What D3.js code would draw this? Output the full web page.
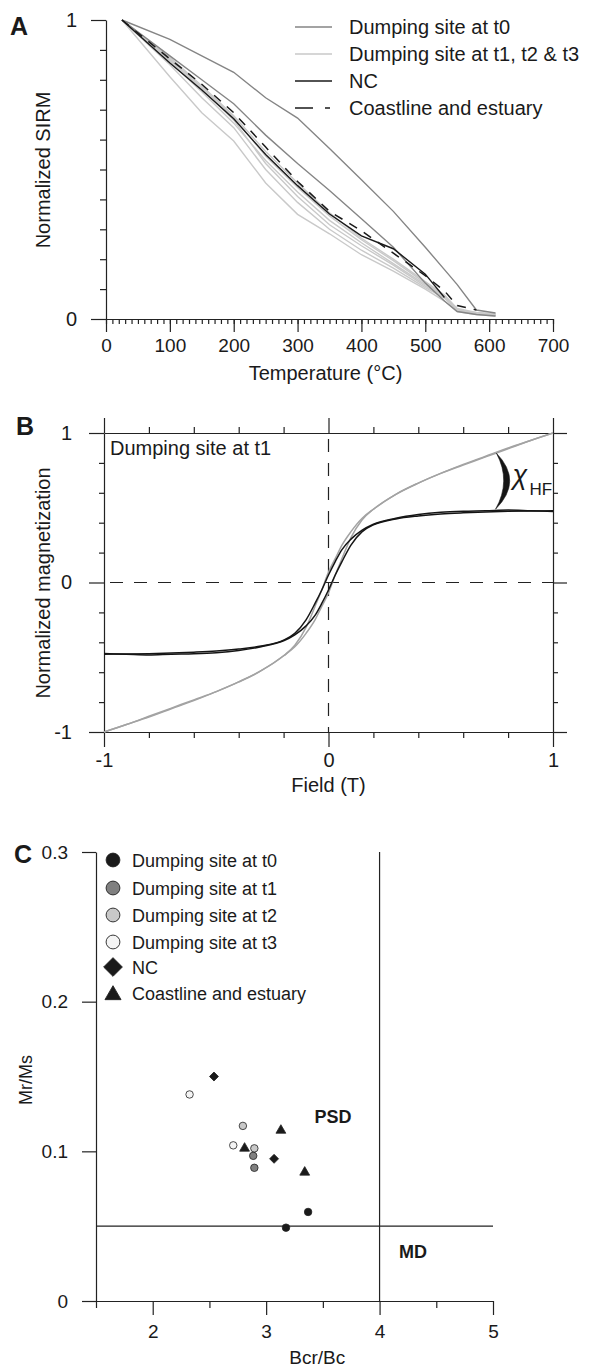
<!DOCTYPE html>
<html><head><meta charset="utf-8">
<script src="https://cdn.jsdelivr.net/npm/d3@7"></script>
<style>
body{margin:0;background:#fff}
svg{display:block}
text{font-family:"Liberation Sans",Arial,Helvetica,sans-serif;fill:#1a1a1a}
</style>
</head><body>
<svg id="chart" width="589" height="1369"></svg>
<script>
// ---------- Panel A data (thermal demagnetization of SIRM) ----------
const tempA = [25,100,150,200,250,300,350,400,450,500,530,550,580,610];
const t0LineA = [1,0.935,0.88,0.825,0.74,0.672,0.57,0.466,0.36,0.24,0.165,0.115,0.03,0.02];
const t0LineB = [1,0.88,0.80,0.72,0.615,0.52,0.43,0.335,0.24,0.12,0.06,0.025,0.015,0.01];
const lightL1 = [1,0.81,0.69,0.595,0.455,0.35,0.285,0.215,0.16,0.10,0.06,0.025,0.015,0.01];
const lightL2 = [1,0.85,0.74,0.64,0.50,0.39,0.30,0.23,0.17,0.105,0.07,0.03,0.018,0.012];
const lightL3 = [1,0.86,0.76,0.655,0.53,0.425,0.33,0.255,0.185,0.115,0.075,0.03,0.02,0.015];
const lightL4 = [1,0.865,0.77,0.665,0.52,0.41,0.315,0.245,0.18,0.11,0.072,0.028,0.018,0.012];
const lightL5 = [1,0.87,0.775,0.675,0.545,0.44,0.345,0.265,0.195,0.12,0.078,0.032,0.02,0.015];
const lightL6 = [1,0.875,0.78,0.68,0.56,0.455,0.355,0.27,0.20,0.125,0.08,0.035,0.022,0.018];
const ncA = [1,0.856,0.766,0.67,0.55,0.446,0.351,0.278,0.235,0.15,0.072,null,null,null];
const coastA = [1,0.87,0.785,0.69,0.575,0.46,0.36,0.295,0.22,0.145,0.094,0.045,0.03,null];
const tempTicks = [0,100,200,300,400,500,600,700];
const legendA = ["Dumping site at t0","Dumping site at t1, t2 & t3","NC","Coastline and estuary"];

// ---------- Panel B data (hysteresis loop, dumping site at t1) ----------
const fieldB = [-1,-0.9,-0.8,-0.7,-0.6,-0.5,-0.4,-0.3,-0.2,-0.15,-0.1,-0.06,-0.03,0,0.03,0.06,0.1,0.15,0.2,0.3,0.4,0.5,0.6,0.7,0.8,0.9,1];
const blackAsc = [-0.475,-0.48,-0.485,-0.48,-0.477,-0.47,-0.455,-0.43,-0.39,-0.35,-0.29,-0.22,-0.14,-0.05,0.05,0.14,0.25,0.34,0.385,0.425,0.445,0.458,0.466,0.472,0.476,0.478,0.48];
const blackDesc = [-0.48,-0.478,-0.476,-0.472,-0.466,-0.458,-0.445,-0.425,-0.385,-0.34,-0.25,-0.14,-0.05,0.05,0.14,0.22,0.29,0.35,0.39,0.43,0.455,0.47,0.477,0.48,0.485,0.48,0.475];
const greyAsc = [-1,-0.95,-0.9,-0.845,-0.79,-0.73,-0.665,-0.59,-0.49,-0.43,-0.34,-0.25,-0.16,-0.07,0.05,0.16,0.30,0.42,0.49,0.59,0.665,0.73,0.785,0.84,0.895,0.95,1.0];
const greyDesc = [-1,-0.95,-0.895,-0.84,-0.785,-0.73,-0.665,-0.59,-0.49,-0.42,-0.30,-0.16,-0.05,0.07,0.16,0.25,0.34,0.43,0.49,0.59,0.665,0.73,0.79,0.845,0.9,0.95,1.0];
const fieldTicksMajor = [-1,0,1];
const fieldTicksMinor = [-0.8,-0.6,-0.4,-0.2,0.2,0.4,0.6,0.8];

// ---------- Panel C data (Day plot) ----------
const t0Bcr = [3.175,3.37],  t0Mr = [0.049,0.0595];
const t1Bcr = [2.886,2.896], t1Mr = [0.097,0.089];
const t2Bcr = [2.795,2.896], t2Mr = [0.117,0.102];
const t3Bcr = [2.325,2.71],  t3Mr = [0.138,0.104];
const ncBcr = [2.54,3.07],   ncMr = [0.150,0.095];
const coBcr = [2.81,3.13,3.34], coMr = [0.102,0.114,0.086];
const legendC = ["Dumping site at t0","Dumping site at t1","Dumping site at t2","Dumping site at t3","NC","Coastline and estuary"];
const bcrTicksMajor = [2,3,4,5];
const bcrTicksMinor = [1.5,2.5,3.5,4.5];
const mrTicks = [0,0.1,0.2,0.3];

// ---------- drawing ----------
const svg = d3.select("#chart");
const AX = "#222";
const plain = d => String(d);
function styleAxis(g, fs){
  g.selectAll("path,line").attr("stroke",AX).attr("stroke-width",1.2);
  g.selectAll("text").attr("fill","#1a1a1a").attr("font-size",fs).attr("font-family",'"Liberation Sans",Arial,sans-serif');
}
function noDomain(g){ g.select(".domain").remove(); }

// ===== Panel A =====
const xA = d3.scaleLinear([0,700],[106,553]);
const yA = d3.scaleLinear([0,1],[319,20]);
const gA = svg.append("g");
gA.append("g").attr("transform",`translate(0,${yA(0)})`)
  .call(d3.axisBottom(xA).tickValues(d3.range(0,701,10)).tickSize(5).tickFormat(""))
  .call(noDomain).call(g=>styleAxis(g,19));
gA.append("g").attr("transform",`translate(0,${yA(0)})`)
  .call(d3.axisBottom(xA).tickValues(tempTicks).tickSize(13).tickSizeOuter(0).tickPadding(7).tickFormat(plain))
  .call(g=>styleAxis(g,19));
gA.append("g").attr("transform",`translate(${xA(0)},0)`)
  .call(d3.axisLeft(yA).tickValues(d3.range(1,10).map(d=>d/10)).tickSize(6).tickFormat(""))
  .call(noDomain).call(g=>styleAxis(g,19));
gA.append("g").attr("transform",`translate(${xA(0)},0)`)
  .call(d3.axisLeft(yA).tickValues([0,1]).tickSize(15).tickSizeOuter(0).tickPadding(14).tickFormat(plain))
  .call(g=>styleAxis(g,20));

const lineA = d3.line().defined(d=>d[1]!=null).x(d=>xA(d[0])).y(d=>yA(d[1]));
const pairs = arr => tempA.map((t,i)=>[t,arr[i]]);
[lightL1,lightL2,lightL3,lightL4,lightL5,lightL6].forEach(s=>{
  gA.append("path").attr("d",lineA(pairs(s))).attr("fill","none").attr("stroke","#c9c9c9").attr("stroke-width",1.4);
});
[t0LineA,t0LineB].forEach(s=>{
  gA.append("path").attr("d",lineA(pairs(s))).attr("fill","none").attr("stroke","#858585").attr("stroke-width",1.4);
});
gA.append("path").attr("d",lineA(pairs(ncA))).attr("fill","none").attr("stroke","#1a1a1a").attr("stroke-width",1.4);
gA.append("path").attr("d",lineA(pairs(coastA))).attr("fill","none").attr("stroke","#1a1a1a").attr("stroke-width",1.5).attr("stroke-dasharray","9,8");

// legend A
const legA = gA.append("g");
const legStyles = [
  {c:"#858585",d:null},{c:"#c9c9c9",d:null},{c:"#1a1a1a",d:null},{c:"#1a1a1a",d:"18,12,5,100"}];
const legAy = [27,54,81,108];
legendA.forEach((t,i)=>{
  legA.append("line").attr("x1",295).attr("x2",332).attr("y1",legAy[i]).attr("y2",legAy[i])
    .attr("stroke",legStyles[i].c).attr("stroke-width",1.6).attr("stroke-dasharray",legStyles[i].d);
  legA.append("text").attr("x",349).attr("y",legAy[i]+7).attr("font-size",20).text(t);
});
gA.append("text").attr("transform","translate(43,170) rotate(-90)").attr("text-anchor","middle").attr("dy","0.35em").attr("font-size",20).text("Normalized SIRM");
gA.append("text").attr("x",(xA(0)+xA(700))/2 - 4).attr("y",380).attr("text-anchor","middle").attr("font-size",20).text("Temperature (°C)");
gA.append("text").attr("x",10).attr("y",35).attr("font-size",25).attr("font-weight","bold").text("A");

// ===== Panel B =====
const xB = d3.scaleLinear([-1,1],[104,553]);
const yB = d3.scaleLinear([-1,1],[732,433]);
const gB = svg.append("g");
gB.append("g").attr("transform",`translate(${xB(-1)},0)`).call(d3.axisLeft(yB).tickValues(fieldTicksMinor).tickSize(5).tickFormat("")).call(noDomain).call(g=>styleAxis(g,20));
gB.append("g").attr("transform",`translate(${xB(1)},0)`).call(d3.axisRight(yB).tickValues(fieldTicksMinor).tickSize(5).tickFormat("")).call(noDomain).call(g=>styleAxis(g,20));
gB.append("g").attr("transform",`translate(0,${yB(1)})`).call(d3.axisTop(xB).tickValues(fieldTicksMinor).tickSize(6).tickFormat("")).call(noDomain).call(g=>styleAxis(g,20));
gB.append("g").attr("transform",`translate(0,${yB(-1)})`).call(d3.axisBottom(xB).tickValues(fieldTicksMinor).tickSize(6).tickFormat("")).call(noDomain).call(g=>styleAxis(g,20));
gB.append("g").attr("transform",`translate(${xB(-1)},0)`).call(d3.axisLeft(yB).tickValues(fieldTicksMajor).tickSize(15).tickSizeOuter(0).tickPadding(17).tickFormat(plain)).call(g=>styleAxis(g,20));
gB.append("g").attr("transform",`translate(${xB(1)},0)`).call(d3.axisRight(yB).tickValues(fieldTicksMajor).tickSize(14).tickSizeOuter(0).tickFormat("")).call(g=>styleAxis(g,20));
gB.append("g").attr("transform",`translate(0,${yB(1)})`).call(d3.axisTop(xB).tickValues(fieldTicksMajor).tickSize(15).tickSizeOuter(0).tickFormat("")).call(g=>styleAxis(g,20));
gB.append("g").attr("transform",`translate(0,${yB(-1)})`).call(d3.axisBottom(xB).tickValues(fieldTicksMajor).tickSize(15).tickSizeOuter(0).tickPadding(6).tickFormat(plain)).call(g=>styleAxis(g,20));
gB.append("line").attr("x1",xB(-1)).attr("x2",xB(1)).attr("y1",yB(0)).attr("y2",yB(0)).attr("stroke",AX).attr("stroke-width",1.2).attr("stroke-dasharray","13,11").attr("stroke-dashoffset",-6);
gB.append("line").attr("x1",xB(0)).attr("x2",xB(0)).attr("y1",yB(1)).attr("y2",yB(-1)).attr("stroke",AX).attr("stroke-width",1.2).attr("stroke-dasharray","13,11").attr("stroke-dashoffset",-6);

const lineB = d3.line().curve(d3.curveMonotoneX).x(d=>xB(d[0])).y(d=>yB(d[1]));
const pb = arr => fieldB.map((f,i)=>[f,arr[i]]);
[greyAsc,greyDesc].forEach(s=>gB.append("path").attr("d",lineB(pb(s))).attr("fill","none").attr("stroke","#a3a3a3").attr("stroke-width",1.5));
[blackAsc,blackDesc].forEach(s=>gB.append("path").attr("d",lineB(pb(s))).attr("fill","none").attr("stroke","#151515").attr("stroke-width",1.5));

const cTop = [xB(0.748), yB(0.865)], cBot = [xB(0.744), yB(0.49)];
const midY = (cTop[1]+cBot[1])/2;
gB.append("path").attr("d",
  `M${cTop[0]},${cTop[1]} Q${cTop[0]+27},${midY} ${cBot[0]},${cBot[1]} Q${cTop[0]+15},${midY} ${cTop[0]},${cTop[1]} Z`)
  .attr("fill","#151515").attr("stroke","#151515").attr("stroke-width",0.6);
gB.append("text").attr("x",xB(0.82)).attr("y",yB(0.66)).attr("font-family",'"DejaVu Serif","Liberation Serif",serif').attr("font-style","italic").attr("font-size",27).text("χ");
gB.append("text").attr("x",xB(0.895)).attr("y",yB(0.585)).attr("font-size",17).text("HF");

gB.append("text").attr("x",110).attr("y",455).attr("font-size",20).text("Dumping site at t1");
gB.append("text").attr("transform","translate(43,583) rotate(-90)").attr("text-anchor","middle").attr("dy","0.35em").attr("font-size",20).text("Normalized magnetization");
gB.append("text").attr("x",xB(0)).attr("y",792).attr("text-anchor","middle").attr("font-size",20).text("Field (T)");
gB.append("text").attr("x",16).attr("y",435).attr("font-size",25).attr("font-weight","bold").text("B");

// ===== Panel C =====
const xC = d3.scaleLinear([1.5,5],[96,493]);
const yC = d3.scaleLinear([0,0.3],[1301,852]);
const gC = svg.append("g");
gC.append("g").attr("transform",`translate(0,${yC(0)})`).call(d3.axisBottom(xC).tickValues(bcrTicksMinor).tickSize(7).tickFormat("")).call(noDomain).call(g=>styleAxis(g,19));
gC.append("g").attr("transform",`translate(0,${yC(0)})`).call(d3.axisBottom(xC).tickValues(bcrTicksMajor).tickSize(14).tickSizeOuter(0).tickPadding(10).tickFormat(plain)).call(g=>styleAxis(g,19));
gC.append("g").attr("transform",`translate(${xC(1.5)},0)`).call(d3.axisLeft(yC).tickValues(mrTicks).tickSize(14).tickSizeOuter(0).tickPadding(14).tickFormat(d=>d===0?"0":d3.format(".1f")(d))).call(g=>styleAxis(g,19));
gC.append("line").attr("x1",xC(4)).attr("x2",xC(4)).attr("y1",yC(0.3)).attr("y2",yC(0)).attr("stroke",AX).attr("stroke-width",1.2);
gC.append("line").attr("x1",xC(1.5)).attr("x2",xC(5)).attr("y1",yC(0.05)).attr("y2",yC(0.05)).attr("stroke",AX).attr("stroke-width",1.2);
gC.append("text").attr("x",xC(3.59)).attr("y",yC(0.1187)).attr("text-anchor","middle").attr("font-size",18).attr("font-weight","bold").text("PSD");
gC.append("text").attr("x",xC(4.295)).attr("y",yC(0.0287)).attr("text-anchor","middle").attr("font-size",18).attr("font-weight","bold").text("MD");

const groups = [
  {x:t0Bcr,y:t0Mr,type:"circle",fill:"#1a1a1a"},
  {x:t1Bcr,y:t1Mr,type:"circle",fill:"#808080"},
  {x:t2Bcr,y:t2Mr,type:"circle",fill:"#c8c8c8"},
  {x:t3Bcr,y:t3Mr,type:"circle",fill:"#f4f4f4"},
  {x:ncBcr,y:ncMr,type:"diamond",fill:"#1a1a1a"},
  {x:coBcr,y:coMr,type:"triangle",fill:"#1a1a1a"}];
function sym(type, big){
  if(type==="circle") return d3.symbol(d3.symbolCircle, big?150:44)();
  if(type==="diamond") return d3.symbol(d3.symbolSquare, big?175:40)();
  return d3.symbol(d3.symbolTriangle, big?112:42)();
}
function rot(type){ return type==="diamond" ? " rotate(45)" : ""; }
groups.forEach(g=>{
  g.x.forEach((v,i)=>{
    gC.append("path").attr("d",sym(g.type,false))
      .attr("transform",`translate(${xC(v)},${yC(g.y[i])})${rot(g.type)}`)
      .attr("fill",g.fill).attr("stroke","#222").attr("stroke-width",0.8);
  });
});
const legCy = [860,888,915,942,967,993];
legendC.forEach((t,i)=>{
  const g = groups[i];
  gC.append("path").attr("d",sym(g.type,true))
    .attr("transform",`translate(113,${legCy[i] + (g.type==="triangle"?2:0)})${rot(g.type)}`)
    .attr("fill",g.fill).attr("stroke","#222").attr("stroke-width",0.9);
  gC.append("text").attr("x",132).attr("y",legCy[i]+6.5).attr("font-size",18).text(t);
});
gC.append("text").attr("transform","translate(26,1080) rotate(-90)").attr("text-anchor","middle").attr("dy","0.35em").attr("font-size",18).text("Mr/Ms");
gC.append("text").attr("x",xC(3.45)).attr("y",1364).attr("text-anchor","middle").attr("font-size",19).text("Bcr/Bc");
gC.append("text").attr("x",14).attr("y",863).attr("font-size",25).attr("font-weight","bold").text("C");
</script>
</body></html>
